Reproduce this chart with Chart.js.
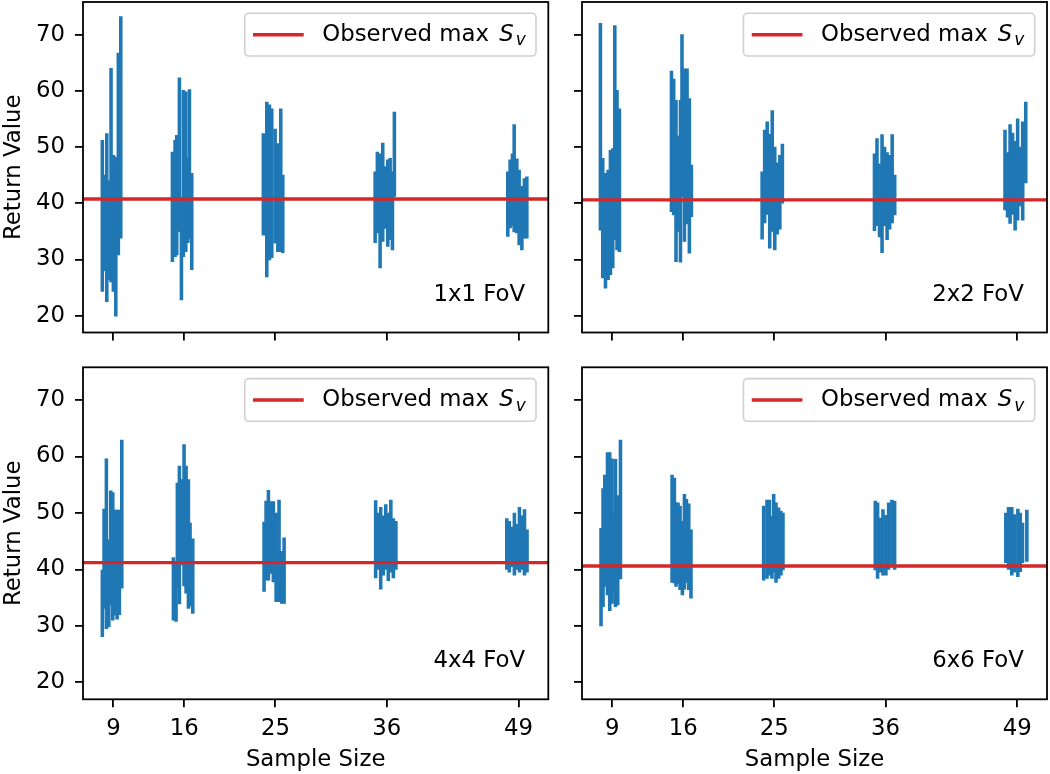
<!DOCTYPE html>
<html>
<head>
<meta charset="utf-8">
<script src="https://cdn.jsdelivr.net/npm/chart.js@4.4.0/dist/chart.umd.min.js"></script>
<style>
html,body{margin:0;padding:0;background:#ffffff;}
#wrap{position:relative;width:1050px;height:774px;overflow:hidden;background:#ffffff;}
#wrap canvas{position:absolute;left:0;top:0;}
</style>
</head>
<body>
<div id="wrap">
<canvas id="c0" width="1050" height="774"></canvas>
<canvas id="c1" width="1050" height="774"></canvas>
<canvas id="c2" width="1050" height="774"></canvas>
<canvas id="c3" width="1050" height="774"></canvas>
</div>
<script>
// ---------------- data ----------------
const sampleSizes = [9, 16, 25, 36, 49];
const yTickValues = [20, 30, 40, 50, 60, 70];
const panelLabels = ['1x1 FoV', '2x2 FoV', '4x4 FoV', '6x6 FoV'];
const observedMax = [40.75, 40.6, 41.2, 40.6];

// 1x1 FoV: x position, low and high of each vertical line
const x_1x1 = [7.91, 8.10, 8.35, 8.60, 8.77, 9.00, 9.24, 9.38, 9.49, 9.73,
  14.83, 15.09, 15.26, 15.52, 15.72, 15.91, 16.15, 16.35, 16.51, 16.74,
  23.81, 24.15, 24.41, 24.64, 24.97, 25.24, 25.53, 25.73,
  34.85, 35.07, 35.34, 35.60, 35.83, 36.10, 36.33, 36.56, 36.75,
  47.95, 48.18, 48.41, 48.58, 48.84, 49.07, 49.34, 49.59, 49.83];
const low_1x1 = [24.3, 28.0, 22.5, 26.4, 26.0, 24.3, 19.9, 31.0, 30.8, 33.8,
  29.6, 30.5, 30.8, 35.0, 22.8, 30.5, 31.4, 33.0, 33.8, 28.2,
  34.3, 26.9, 29.9, 30.3, 32.9, 31.4, 31.4, 31.2,
  33.0, 34.7, 28.5, 33.2, 35.5, 32.3, 33.5, 31.7, 41.2,
  34.1, 35.6, 36.0, 34.9, 34.7, 32.6, 31.7, 33.8, 33.8];
const high_1x1 = [51.2, 45.0, 52.4, 44.0, 64.0, 48.5, 48.2, 46.0, 66.7, 73.2,
  49.1, 51.2, 52.1, 62.3, 40.5, 60.1, 59.8, 48.0, 60.2, 45.3,
  52.4, 58.0, 57.5, 56.8, 53.2, 50.6, 56.8, 45.0,
  45.6, 49.1, 48.8, 50.7, 46.5, 47.7, 48.0, 45.6, 56.2,
  45.6, 47.7, 48.8, 54.0, 47.9, 45.9, 43.0, 44.4, 44.7];

// 2x2 FoV
const x_2x2 = [7.82, 8.05, 8.32, 8.58, 8.81, 9.04, 9.24, 9.46, 9.70,
  14.84, 15.06, 15.29, 15.56, 15.73, 15.88, 16.12, 16.38, 16.61, 16.81,
  23.80, 24.05, 24.30, 24.55, 24.80, 25.05, 25.30, 25.55, 25.80,
  34.90, 35.15, 35.40, 35.65, 35.90, 36.15, 36.40, 36.65, 36.90,
  47.80, 48.05, 48.30, 48.55, 48.80, 49.05, 49.30, 49.55, 49.85];
const low_2x2 = [35.2, 26.7, 24.9, 26.4, 27.3, 28.5, 33.5, 31.7, 31.4,
  38.5, 37.9, 29.6, 35.0, 29.5, 41.2, 33.2, 36.3, 31.1, 37.6,
  33.6, 36.5, 38.0, 32.0, 35.0, 31.7, 34.5, 35.4, 40.0,
  35.1, 36.0, 34.0, 31.2, 36.0, 33.5, 35.4, 36.5, 37.9,
  38.8, 37.5, 36.4, 38.0, 35.2, 37.0, 39.5, 37.0, 43.6];
const high_2x2 = [72.0, 48.0, 45.3, 45.9, 49.4, 49.7, 71.6, 60.1, 56.8,
  63.5, 62.1, 58.3, 52.0, 58.3, 70.0, 63.9, 63.9, 58.6, 46.8,
  45.6, 53.0, 54.5, 52.3, 56.5, 50.0, 47.2, 48.5, 50.5,
  48.8, 51.5, 47.0, 52.2, 50.0, 49.0, 48.5, 52.2, 45.0,
  53.0, 49.0, 54.0, 52.5, 51.0, 55.0, 50.0, 54.5, 58.0];

// 4x4 FoV
const x_4x4 = [7.91, 8.08, 8.31, 8.55, 8.74, 8.94, 9.14, 9.37, 9.59, 9.83,
  14.93, 15.19, 15.32, 15.52, 15.76, 15.98, 16.18, 16.41, 16.57, 16.84,
  23.88, 24.08, 24.31, 24.55, 24.80, 25.07, 25.36, 25.63, 25.86,
  34.90, 35.15, 35.40, 35.65, 35.90, 36.15, 36.40, 36.65, 36.90,
  47.85, 48.10, 48.35, 48.60, 48.85, 49.10, 49.35, 49.60, 49.85];
const low_4x4 = [28.1, 33.1, 29.5, 29.8, 33.7, 31.0, 31.9, 31.2, 32.0, 36.7,
  31.0, 30.8, 36.8, 33.9, 40.8, 37.1, 35.8, 33.1, 33.5, 32.2,
  36.1, 38.1, 38.1, 39.3, 37.8, 34.3, 34.3, 34.0, 34.0,
  38.5, 40.0, 36.5, 39.0, 40.0, 38.0, 39.5, 38.5, 40.0,
  40.0, 39.5, 40.5, 39.0, 40.0, 39.5, 40.0, 39.0, 39.5];
const high_4x4 = [39.9, 50.7, 59.6, 45.3, 53.9, 53.6, 50.5, 50.5, 50.5, 62.9,
  42.1, 41.0, 55.3, 58.3, 55.9, 62.1, 58.3, 55.9, 48.2, 45.4,
  48.4, 52.1, 54.0, 52.0, 52.0, 50.0, 52.3, 43.2, 45.6,
  52.2, 50.0, 51.0, 49.5, 51.5, 50.0, 52.3, 49.0, 48.5,
  49.0, 48.5, 47.5, 50.0, 48.0, 51.0, 49.5, 50.6, 47.0];

// 6x6 FoV
const x_6x6 = [7.88, 8.08, 8.25, 8.52, 8.74, 8.97, 9.14, 9.31, 9.53, 9.80,
  14.90, 15.13, 15.29, 15.49, 15.69, 15.92, 16.12, 16.32, 16.55, 16.77,
  23.95, 24.28, 24.52, 24.77, 24.94, 25.17, 25.43, 25.66, 25.86,
  34.98, 35.21, 35.48, 35.74, 36.03, 36.30, 36.62, 36.89,
  47.88, 48.15, 48.47, 48.74, 49.07, 49.31, 49.53, 49.96];
const low_6x6 = [30.0, 33.4, 37.0, 35.5, 32.7, 34.0, 36.0, 33.4, 33.7, 38.3,
  37.7, 37.6, 37.0, 37.5, 36.4, 35.5, 36.5, 37.7, 36.4, 34.9,
  38.1, 38.4, 39.0, 38.4, 39.5, 37.7, 38.4, 39.0, 39.9,
  39.9, 38.4, 39.5, 39.0, 39.0, 40.0, 40.8, 40.0,
  41.2, 40.0, 39.0, 39.5, 38.7, 39.6, 41.2, 41.4];
const high_6x6 = [47.3, 54.3, 56.7, 60.7, 60.7, 59.6, 50.0, 59.5, 53.1, 62.9,
  56.7, 56.2, 51.8, 51.8, 51.2, 48.5, 53.3, 52.4, 51.6, 47.0,
  51.2, 52.3, 52.3, 49.4, 53.3, 51.8, 50.9, 50.3, 50.0,
  52.1, 51.8, 49.1, 50.6, 49.6, 51.8, 52.3, 52.1,
  50.0, 51.0, 51.0, 49.7, 50.7, 50.0, 48.2, 50.5];

// ---------------- styling / layout ----------------
const FONT = 'DejaVu Sans';
const FS = 22.8;
const BLUE = '#1f77b4';
const RED = '#d62728';
const X_MIN = 6.0, X_MAX = 51.95, Y_MIN = 17.0, Y_MAX = 75.8;
Chart.defaults.font.family = FONT;
Chart.defaults.font.size = FS;
Chart.defaults.color = '#000000';

const panels = [
  {id: 'c0', xs: x_1x1, lo: low_1x1, hi: high_1x1, area: {l: 83, r: 548.3, t: 2, b: 332.5}, showY: true, showX: false},
  {id: 'c1', xs: x_2x2, lo: low_2x2, hi: high_2x2, area: {l: 582, r: 1047, t: 2, b: 332.5}, showY: false, showX: false},
  {id: 'c2', xs: x_4x4, lo: low_4x4, hi: high_4x4, area: {l: 83, r: 548.3, t: 367.3, b: 699.3}, showY: true, showX: true},
  {id: 'c3', xs: x_6x6, lo: low_6x6, hi: high_6x6, area: {l: 582, r: 1047, t: 367.3, b: 699.3}, showY: false, showX: true}
];

const decor = {
  id: 'decor',
  afterDraw(chart, args, o) {
    const ctx = chart.ctx;
    const a = chart.chartArea;
    ctx.save();
    // frame
    ctx.strokeStyle = '#000000';
    ctx.lineWidth = 1.8;
    ctx.strokeRect(a.left, a.top, a.right - a.left, a.bottom - a.top);
    // panel label
    ctx.fillStyle = '#000000';
    ctx.font = FS + 'px "' + FONT + '"';
    ctx.textAlign = 'right';
    ctx.textBaseline = 'alphabetic';
    ctx.fillText(o.label, a.left + 0.95 * (a.right - a.left), a.bottom - 32);
    // legend
    const mainFont = FS + 'px "' + FONT + '"';
    const itFont = 'italic ' + FS + 'px "' + FONT + '"';
    const subFont = 'italic 17px "' + FONT + '"';
    ctx.font = mainFont; const w1 = ctx.measureText('Observed max ').width;
    ctx.font = itFont; const w2 = ctx.measureText('S').width;
    ctx.font = subFont; const w3 = ctx.measureText('v').width;
    const gapS = 3, gapV = 2;
    const textW = w1 + gapS + w2 + gapV + w3;
    const bw = 8.3 + 50.7 + 18.6 + textW + 10.3;
    const bh = 42.7;
    const bx = a.right - 12.3 - bw;
    const by = a.top + 11.3;
    ctx.beginPath();
    ctx.roundRect(bx, by, bw, bh, 4);
    ctx.fillStyle = 'rgba(255,255,255,0.8)';
    ctx.fill();
    ctx.strokeStyle = '#d0d0d0';
    ctx.lineWidth = 1.6;
    ctx.stroke();
    ctx.beginPath();
    ctx.moveTo(bx + 8.3, by + 21.4);
    ctx.lineTo(bx + 59, by + 21.4);
    ctx.strokeStyle = RED;
    ctx.lineWidth = 3.4;
    ctx.stroke();
    let tx = bx + 77.6;
    const ty = by + 27.4;
    ctx.fillStyle = '#000000';
    ctx.textAlign = 'left';
    ctx.font = mainFont; ctx.fillText('Observed max ', tx, ty); tx += w1 + gapS;
    ctx.font = itFont; ctx.fillText('S', tx, ty); tx += w2 + gapV;
    ctx.font = subFont; ctx.fillText('v', tx, ty + 4.5);
    ctx.restore();
  }
};

panels.forEach((p, idx) => {
  const a = p.area;
  const yAxisW = p.showY ? a.l : 30;
  const xAxisH = p.showX ? 774 - a.b : 40;
  const tickStyle = {display: true, drawOnChartArea: false, drawTicks: true, tickLength: 8,
    tickWidth: 1.8, lineWidth: 1.8, tickColor: '#000000', color: '#000000', offset: false};
  new Chart(document.getElementById(p.id), {
    type: 'bar',
    data: {
      datasets: [
        {
          type: 'line',
          label: 'Observed max Sv',
          data: [{x: X_MIN, y: observedMax[idx]}, {x: X_MAX, y: observedMax[idx]}],
          borderColor: RED,
          borderWidth: 3.4,
          pointRadius: 0,
          order: 0
        },
        {
          type: 'bar',
          label: 'Return value range',
          data: p.xs.map((x, i) => ({x: x, y: [p.lo[i], p.hi[i]]})),
          backgroundColor: BLUE,
          borderWidth: 0,
          barThickness: 2.9,
          grouped: false,
          order: 1
        }
      ]
    },
    options: {
      responsive: false,
      animation: false,
      events: [],
      layout: {padding: {left: a.l - yAxisW, right: 1050 - a.r, top: a.t, bottom: 774 - a.b - xAxisH}},
      plugins: {legend: {display: false}, tooltip: {enabled: false}, decor: {label: panelLabels[idx]}},
      scales: {
        x: {
          type: 'linear', min: X_MIN, max: X_MAX, offset: false,
          grid: tickStyle,
          border: {display: false},
          afterBuildTicks: s => { s.ticks = sampleSizes.map(v => ({value: v})); },
          afterFit: s => { s.height = xAxisH; s.paddingLeft = 0; s.paddingRight = 0; },
          ticks: {autoSkip: false, maxRotation: 0, padding: 8, color: '#000000',
            font: {size: FS, family: FONT},
            callback: v => p.showX ? String(v) : ''},
          title: {display: p.showX, text: 'Sample Size', color: '#000000', font: {size: FS, family: FONT}, padding: {top: 0, bottom: 0}}
        },
        y: {
          type: 'linear', min: Y_MIN, max: Y_MAX, beginAtZero: false,
          grid: tickStyle,
          border: {display: false},
          afterBuildTicks: s => { s.ticks = yTickValues.map(v => ({value: v})); },
          afterFit: s => { s.width = yAxisW; s.paddingTop = 0; s.paddingBottom = 0; },
          ticks: {autoSkip: false, padding: 10, color: '#000000',
            font: {size: FS, family: FONT},
            callback: v => p.showY ? String(v) : ''},
          title: {display: p.showY, text: 'Return Value', color: '#000000', font: {size: FS, family: FONT}, padding: {top: 0, bottom: 0}}
        }
      }
    },
    plugins: [decor]
  });
});
</script>
</body>
</html>
